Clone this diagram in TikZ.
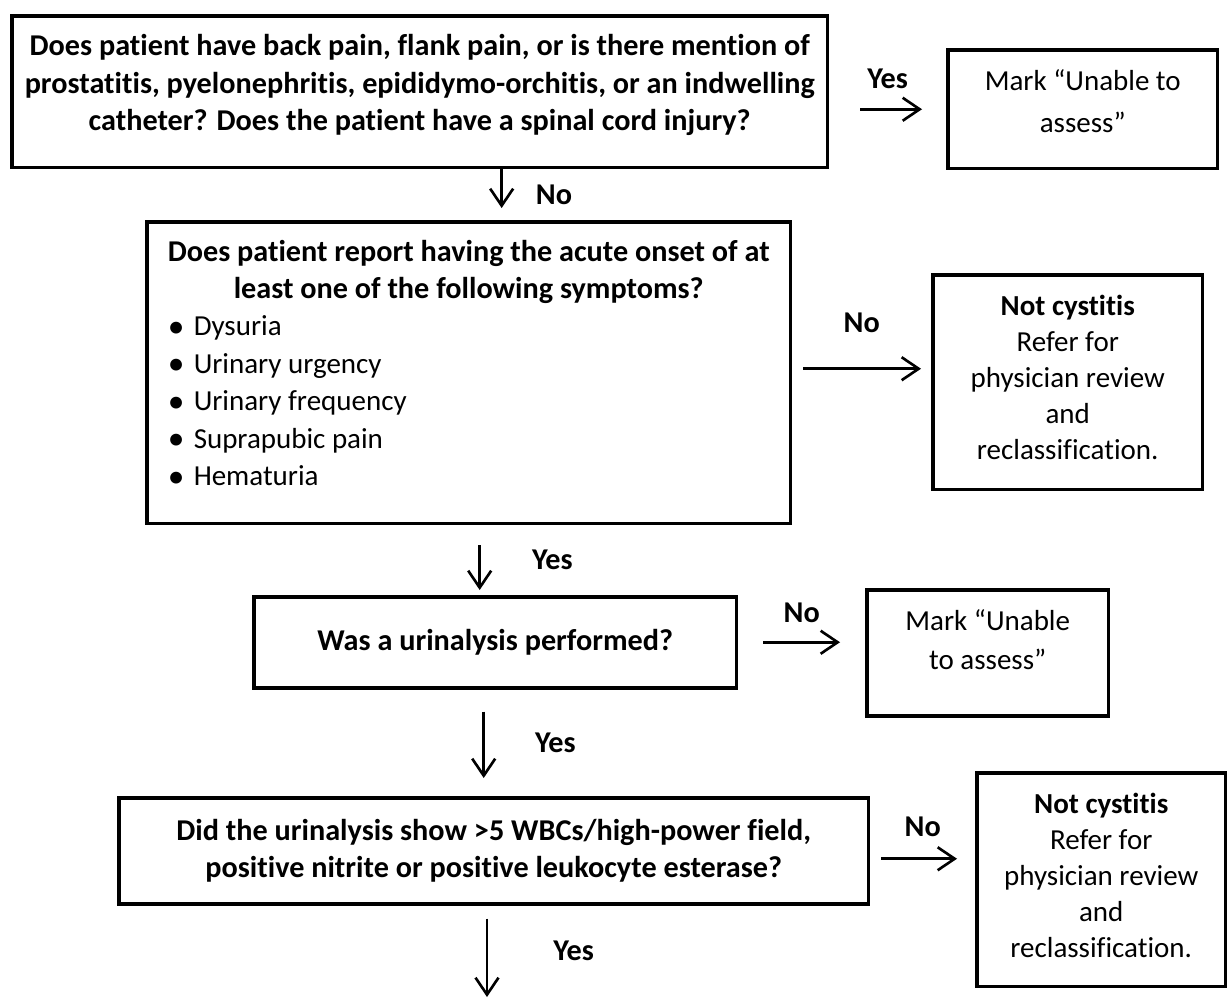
\documentclass[tikz,border=0pt]{standalone}
\usepackage{fontspec}
\setmainfont{Carlito}[Ligatures={NoCommon}]
\usetikzlibrary{arrows.meta,positioning}

\newcommand{\symline}[1]{\hspace*{0.12cm}\makebox[0.52cm][l]{\raisebox{-0.9pt}{\fontsize{19}{19}\selectfont\textbullet}}#1}

\begin{document}
\begin{tikzpicture}[x=0.02cm,y=-0.02cm]
	\tikzset{
		mybox/.style={rectangle, draw=black, line width=2pt, inner sep=0pt, anchor=north west, align=center, font=\fontsize{16.5}{21.3}\selectfont},
		mybold/.style={mybox, font=\fontsize{17.2}{21.3}\selectfont\bfseries},
		myresult/.style={mybox, font=\fontsize{16.5}{20.5}\selectfont},
		myarrow/.style={-{Straight Barb[length=3.4mm,width=4.6mm,line width=1.5pt]}, line width=1.5pt},
		mylabel/.style={inner sep=0pt, font=\fontsize{17.2}{20}\selectfont\bfseries}
	}
	\useasboundingbox (0,0) rectangle (1227,998);

	\node[mybold, minimum width=16.32cm, minimum height=3.04cm, text depth=0.36cm] (backpain) at (10,14) {Does patient have back pain, flank pain, or is there mention of\\ prostatitis, pyelonephritis, epididymo-orchitis, or an indwelling\\ catheter? Does the patient have a spinal cord injury?};
	\node[mybox, minimum width=5.4cm, minimum height=2.38cm, text depth=0.34cm, font=\fontsize{16.5}{23.8}\selectfont] (unable1) at (946,48) {Mark “Unable to\\ assess”};
	\node[mybox, minimum width=12.88cm, minimum height=6.04cm, text depth=0.4cm, align=left] (symptoms) at (145,220) {\makebox[12.28cm]{\bfseries\fontsize{17.2}{21.3}\selectfont Does patient report having the acute onset of at}\\
		\makebox[12.28cm]{\bfseries\fontsize{17.2}{21.3}\selectfont least one of the following symptoms?}\\
		\symline{Dysuria}\\
		\symline{Urinary urgency}\\
		\symline{Urinary frequency}\\
		\symline{Suprapubic pain}\\
		\symline{Hematuria}};
	\node[myresult, minimum width=5.4cm, minimum height=4.3cm, text depth=0.18cm] (notcyst1) at (931,273) {\textbf{Not cystitis}\\ Refer for\\ physician review\\ and\\ reclassification.};
	\node[mybold, minimum width=9.66cm, minimum height=1.82cm] (urinalysis) at (252,595) {Was a urinalysis performed?};
	\node[mybox, minimum width=4.84cm, minimum height=2.52cm, text depth=0.54cm, font=\fontsize{16.5}{22.2}\selectfont] (unable2) at (865,588) {Mark “Unable\\ to assess”};
	\node[mybold, minimum width=15cm, minimum height=2.12cm] (wbc) at (117,796) {Did the urinalysis show >5 WBCs/high-power field,\\ positive nitrite or positive leukocyte esterase?};
	\node[myresult, minimum width=4.98cm, minimum height=4.28cm, text depth=0.18cm] (notcyst2) at (975,771) {\textbf{Not cystitis}\\ Refer for\\ physician review\\ and\\ reclassification.};
	\coordinate (next) at (487,997);

	\draw[myarrow, shorten <=0.62cm, shorten >=0.48cm] (backpain.east |- unable1.west) -- (unable1.west) node[mylabel, midway, above=0.39cm] {Yes};
	\draw[myarrow, shorten >=0.24cm] ([xshift=1.64cm]backpain.south) -- ([xshift=1.64cm]backpain.south |- symptoms.north) node[mylabel, midway, right=0.66cm] {No};
	\draw[myarrow, shorten <=0.22cm, shorten >=0.2cm] ([yshift=0.08cm]symptoms.east) -- ([yshift=0.08cm]symptoms.east -| notcyst1.west) node[mylabel, midway, above=0.7cm] {No};
	\draw[myarrow, shorten <=0.4cm, shorten >=0.1cm] ([xshift=0.22cm]symptoms.south) -- ([xshift=0.22cm]symptoms.south |- urinalysis.north) node[mylabel, midway, right=1.02cm] {Yes};
	\draw[myarrow, shorten <=0.5cm, shorten >=0.5cm] (urinalysis.east) -- (urinalysis.east -| unable2.west) node[mylabel, midway, above=0.37cm] {No};
	\draw[myarrow, shorten <=0.44cm, shorten >=0.36cm] ([xshift=-0.23cm]urinalysis.south) -- ([xshift=-0.23cm]urinalysis.south |- wbc.north) node[mylabel, midway, right=1cm] {Yes};
	\draw[myarrow, shorten <=0.22cm, shorten >=0.36cm] ([yshift=-0.16cm]wbc.east) -- ([yshift=-0.16cm]wbc.east -| notcyst2.west) node[mylabel, midway, above=0.42cm] {No};
	\draw[myarrow, shorten <=0.26cm] (wbc.south -| next) -- (next) node[mylabel, midway, right=1.3cm] {Yes};
\end{tikzpicture}
\end{document}
